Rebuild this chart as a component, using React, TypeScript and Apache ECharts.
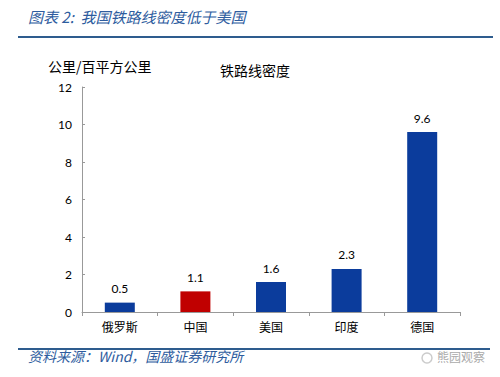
import React, { useEffect, useRef } from "react";
import * as echarts from "echarts";

const categories = ["俄罗斯", "中国", "美国", "印度", "德国"];
const values = [0.5, 1.1, 1.6, 2.3, 9.6];
const barColors = ["#0B3C9C", "#C00000", "#0B3C9C", "#0B3C9C", "#0B3C9C"];
const yTicks = { min: 0, max: 12, interval: 2 };

export default function App() {
  const ref = useRef<HTMLDivElement>(null);
  useEffect(() => {
    const chart = echarts.init(ref.current!, null, { renderer: "svg" });
    const font = "Lato, 'Noto Sans CJK SC', sans-serif";
    chart.setOption({
      animation: false,
      backgroundColor: "#fff",
      grid: { left: 82, right: 40, top: 87, bottom: 65 },
      xAxis: {
        type: "category",
        data: categories,
        boundaryGap: true,
        axisLine: { lineStyle: { color: "#999" } },
        axisTick: { show: true, length: 4, lineStyle: { color: "#999" } },
        axisLabel: { color: "#000", fontSize: 12, fontFamily: "'Noto Sans CJK SC', sans-serif", margin: 8 },
      },
      yAxis: {
        type: "value",
        min: yTicks.min,
        max: yTicks.max,
        interval: yTicks.interval,
        splitLine: { show: false },
        axisLine: { show: true, lineStyle: { color: "#999" } },
        axisTick: { show: true, inside: true, length: 3, lineStyle: { color: "#999" } },
        axisLabel: { color: "#000", fontSize: 12, fontFamily: font, margin: 10 },
      },
      series: [
        {
          type: "bar",
          data: values.map((v, i) => ({ value: v, itemStyle: { color: barColors[i] } })),
          barWidth: 30,
          label: {
            show: true,
            position: "top",
            color: "#000",
            fontSize: 12,
            fontFamily: font,
            distance: 8,
          },
        },
      ],
      graphic: [
        {
          type: "text",
          left: 28,
          top: 9,
          style: {
            text: "图表 2:  我国铁路线密度低于美国",
            fill: "#2E5C9E",
            font: "italic 15px 'Noto Sans CJK SC', sans-serif",
          },
        },
        {
          type: "line",
          shape: { x1: 18, y1: 37, x2: 493, y2: 37 },
          style: { stroke: "#2E5C8E", lineWidth: 2 },
        },
        {
          type: "text",
          left: 48,
          top: 59,
          style: {
            text: "公里/百平方公里",
            fill: "#000",
            font: "14px 'Noto Sans CJK SC', sans-serif",
          },
        },
        {
          type: "text",
          left: 220,
          top: 63,
          style: {
            text: "铁路线密度",
            fill: "#000",
            font: "14px 'Noto Sans CJK SC', sans-serif",
          },
        },
        {
          type: "line",
          shape: { x1: 18, y1: 349, x2: 490, y2: 349 },
          style: { stroke: "#2E5C8E", lineWidth: 2 },
        },
        {
          type: "text",
          left: 28,
          top: 349,
          style: {
            text: "资料来源：Wind，国盛证券研究所",
            fill: "#2E5C9E",
            font: "italic 14px 'Noto Sans CJK SC', sans-serif",
          },
        },
        {
          type: "text",
          left: 437,
          top: 350,
          style: {
            text: "熊园观察",
            fill: "#AAAAAA",
            font: "12px 'Noto Sans CJK SC', sans-serif",
          },
        },
        {
          type: "circle",
          shape: { cx: 427, cy: 358, r: 5 },
          style: { fill: "none", stroke: "#CCCCCC", lineWidth: 1.5 },
        },
      ],
    });
    return () => chart.dispose();
  }, []);
  return <div ref={ref} style={{ width: 500, height: 377, position: "absolute", left: 0, top: 0 }} />;
}
